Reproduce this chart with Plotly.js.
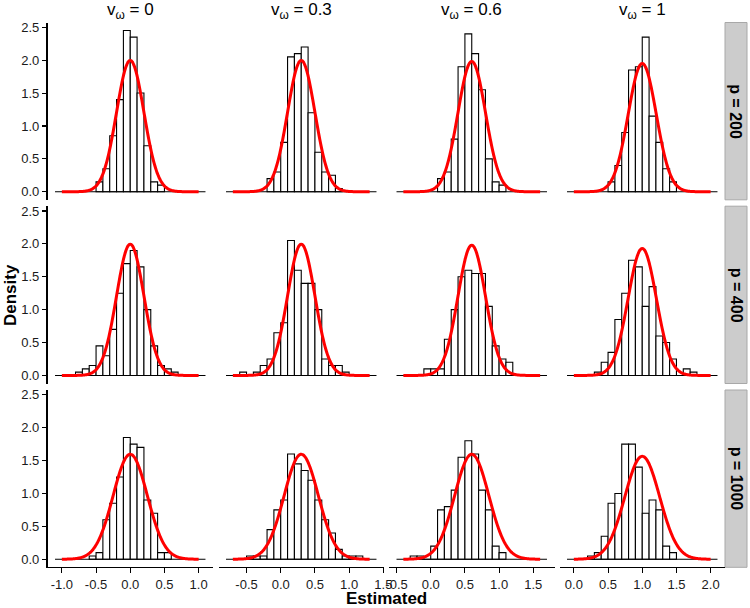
<!DOCTYPE html>
<html>
<head>
<meta charset="utf-8">
<script src="https://cdn.plot.ly/plotly-3.0.1.min.js"></script>
<style>html,body{margin:0;padding:0;background:#fff;}#chart{width:750px;height:608px;}</style>
</head>
<body>
<div id="chart"></div>
<script>
// ---------- data ----------
const vOmega = [0, 0.3, 0.6, 1];
const vLabels = ["0", "0.3", "0.6", "1"];
const pValues = [200, 400, 1000];
const binWidth = 0.1;

// histogram range (zero-height bins drawn as baseline) per column
const histLo = [-1.1, -0.8, -0.5, -0.1];
const histHi = [1.1, 1.4, 1.7, 2.1];

// first bin left edge per panel (rows: p=200, 400, 1000; cols: v = 0, 0.3, 0.6, 1)
const binStart_p200 = [-0.5, -0.2, 0.1, 0.5];
const binStart_p400 = [-0.8, -0.6, -0.1, 0.3];
const binStart_p1000 = [-0.6, -0.5, -0.3, 0.2];

// densities
const dens_p200_v0   = [0.15, 0.35, 0.85, 1.4, 2.45, 2.35, 1.5, 0.7, 0.15, 0.1];
const dens_p200_v03  = [0.2, 0.3, 0.75, 2.05, 2.1, 2.2, 1.2, 0.6, 0.3, 0.25, 0.05];
const dens_p200_v06  = [0.2, 0.3, 0.8, 1.9, 2.4, 2.1, 1.55, 0.5, 0.15, 0.1];
const dens_p200_v1   = [0.15, 0.4, 0.9, 1.85, 1.9, 2.35, 1.15, 0.75, 0.35, 0.15];

const dens_p400_v0   = [0.05, 0.1, 0.15, 0.45, 0.3, 0.7, 1.25, 1.7, 1.9, 1.65, 1.0, 0.45, 0.15, 0.1, 0.05];
const dens_p400_v03  = [0.05, 0, 0.05, 0.15, 0.25, 0.65, 0.8, 2.05, 1.6, 1.4, 1.4, 1.0, 0.25, 0.15, 0.15, 0.05];
const dens_p400_v06  = [0.1, 0.1, 0.1, 0.55, 1.0, 1.5, 1.6, 1.55, 1.55, 1.05, 0.45, 0.25, 0.2];
const dens_p400_v1   = [0.05, 0.2, 0.35, 0.85, 1.25, 1.75, 1.65, 1.05, 1.35, 0.6, 0.5, 0.25, 0, 0.1, 0.05];

const dens_p1000_v0  = [0.05, 0.1, 0.6, 0.85, 1.25, 1.85, 1.75, 1.7, 0.9, 0.7, 0.1, 0.1];
const dens_p1000_v03 = [0.05, 0.05, 0.05, 0.45, 0.75, 0.9, 1.6, 1.45, 1.35, 1.2, 0.9, 0.6, 0.4, 0.15, 0.05, 0.05, 0.05];
const dens_p1000_v06 = [0.05, 0.05, 0, 0.2, 0.75, 0.8, 1.05, 1.55, 1.8, 1.6, 1.05, 0.75, 0.2, 0.1];
const dens_p1000_v1  = [0.05, 0.1, 0.35, 0.85, 1.0, 1.75, 1.75, 1.4, 0.7, 0.9, 0.75, 0.2, 0.1];

// standard deviation of the theoretical normal curve (mean = v), drawn over mean +/- 1
const curveSd_p200  = [0.2, 0.2, 0.2015, 0.2046];
const curveSd_p400  = [0.2, 0.2, 0.2015, 0.2067];
const curveSd_p1000 = [0.25, 0.25, 0.25, 0.255];
const curveHalfSpan = 1;

// tick labels
const xTickVals = [[-1, -0.5, 0, 0.5, 1], [-0.5, 0, 0.5, 1, 1.5], [-0.5, 0, 0.5, 1, 1.5], [0, 0.5, 1, 1.5, 2]];
const xTickText = [["-1.0", "-0.5", "0.0", "0.5", "1.0"], ["-0.5", "0.0", "0.5", "1.0", "1.5"], ["-0.5", "0.0", "0.5", "1.0", "1.5"], ["0.0", "0.5", "1.0", "1.5", "2.0"]];
const yTickVals = [0, 0.5, 1, 1.5, 2, 2.5];
const yTickText = ["0.0", "0.5", "1.0", "1.5", "2.0", "2.5"];

const binStarts = [binStart_p200, binStart_p400, binStart_p1000];
const densities = [
  [dens_p200_v0, dens_p200_v03, dens_p200_v06, dens_p200_v1],
  [dens_p400_v0, dens_p400_v03, dens_p400_v06, dens_p400_v1],
  [dens_p1000_v0, dens_p1000_v03, dens_p1000_v06, dens_p1000_v1]
];
const curveSds = [curveSd_p200, curveSd_p400, curveSd_p1000];

// ---------- layout geometry (pixels) ----------
const W = 750, H = 608;
const colLeft = [47.5, 218.5, 389, 559.5];
const colWidth = 165.5;
const rowTop = [22.5, 206.2, 390];
const rowHeight = 177.3;
const yRange = [-0.1225, 2.5725];
const FONT = '"Liberation Sans", Arial, Helvetica, sans-serif';
const TICKCOL = '#1a1a1a';

const traces = [];
const layout = {
  width: W, height: H,
  margin: {l: 0, r: 0, t: 0, b: 0},
  paper_bgcolor: '#fff', plot_bgcolor: 'rgba(0,0,0,0)',
  showlegend: false,
  barmode: 'overlay',
  font: {family: FONT, color: TICKCOL, size: 13},
  shapes: [], annotations: []
};

for (let r = 0; r < 3; r++) {
  for (let c = 0; c < 4; c++) {
    const k = r * 4 + c + 1;
    const xa = 'x' + k, ya = 'y' + k;
    const xd = [colLeft[c] / W, (colLeft[c] + colWidth) / W];
    const yd = [1 - (rowTop[r] + rowHeight) / H, 1 - rowTop[r] / H];
    const pad = 0.05 * (histHi[c] - histLo[c]);
    const bottom = (r === 2), left = (c === 0);
    layout['xaxis' + k] = {
      domain: xd, anchor: ya, range: [histLo[c] - pad, histHi[c] + pad],
      showgrid: false, zeroline: false, fixedrange: true,
      showline: bottom, linecolor: '#000', linewidth: 1.1,
      ticks: bottom ? 'outside' : '', ticklen: 4.5, tickwidth: 1.1, tickcolor: '#000',
      tickvals: xTickVals[c], ticktext: xTickText[c], showticklabels: bottom,
      tickfont: {family: FONT, size: 13, color: TICKCOL}
    };
    layout['yaxis' + k] = {
      domain: yd, anchor: xa, range: yRange,
      showgrid: false, zeroline: false, fixedrange: true,
      showline: left, linecolor: '#000', linewidth: 1.1,
      ticks: left ? 'outside' : '', ticklen: 4.5, tickwidth: 1.1, tickcolor: '#000',
      tickvals: yTickVals, ticktext: yTickText, showticklabels: left,
      tickfont: {family: FONT, size: 13, color: TICKCOL}
    };

    // baseline (zero-height bins)
    traces.push({type: 'scatter', mode: 'lines', x: [histLo[c], histHi[c]], y: [0, 0],
      xaxis: xa, yaxis: ya, line: {color: '#000', width: 1.1}, hoverinfo: 'skip'});

    // histogram bars
    const d = densities[r][c];
    const xs = d.map((_, i) => binStarts[r][c] + (i + 0.5) * binWidth);
    traces.push({type: 'bar', x: xs, y: d, width: binWidth, xaxis: xa, yaxis: ya,
      marker: {color: '#ffffff', line: {color: '#000', width: 1.1}}, hoverinfo: 'skip'});

    // theoretical normal density
    const mu = vOmega[c], sd = curveSds[r][c];
    const cx = [], cy = [];
    const n = 200;
    for (let i = 0; i <= n; i++) {
      const x = mu - curveHalfSpan + 2 * curveHalfSpan * i / n;
      cx.push(x);
      cy.push(Math.exp(-0.5 * Math.pow((x - mu) / sd, 2)) / (sd * Math.sqrt(2 * Math.PI)));
    }
    traces.push({type: 'scatter', mode: 'lines', x: cx, y: cy, xaxis: xa, yaxis: ya,
      line: {color: '#ff0000', width: 3, shape: 'spline'}, hoverinfo: 'skip'});
  }
}

// column titles
for (let c = 0; c < 4; c++) {
  layout.annotations.push({
    xref: 'paper', yref: 'paper', x: (colLeft[c] + colWidth / 2) / W, y: 1 - 11 / H,
    xanchor: 'center', yanchor: 'middle', showarrow: false,
    text: 'v<sub>ω</sub> = ' + vLabels[c],
    font: {family: FONT, size: 17, color: '#000'}
  });
}
// row strips
const stripL = 725, stripW = 22;
for (let r = 0; r < 3; r++) {
  layout.shapes.push({type: 'rect', xref: 'paper', yref: 'paper', layer: 'below',
    x0: stripL / W, x1: (stripL + stripW) / W,
    y0: 1 - (rowTop[r] + rowHeight) / H, y1: 1 - rowTop[r] / H,
    fillcolor: '#cccccc', line: {color: '#a8a8a8', width: 1}});
  layout.annotations.push({
    xref: 'paper', yref: 'paper', x: (stripL + stripW / 2) / W, y: 1 - (rowTop[r] + rowHeight / 2) / H,
    xanchor: 'center', yanchor: 'middle', showarrow: false, textangle: 90,
    text: '<b>p = ' + pValues[r] + '</b>',
    font: {family: FONT, size: 16, color: '#000'}
  });
}
// axis titles
layout.annotations.push({xref: 'paper', yref: 'paper', x: 10 / W, y: 1 - 295 / H,
  xanchor: 'center', yanchor: 'middle', showarrow: false, textangle: -90,
  text: '<b>Density</b>', font: {family: FONT, size: 17, color: '#000'}});
layout.annotations.push({xref: 'paper', yref: 'paper', x: 386 / W, y: 1 - 598 / H,
  xanchor: 'center', yanchor: 'middle', showarrow: false,
  text: '<b>Estimated</b>', font: {family: FONT, size: 17, color: '#000'}});

Plotly.newPlot('chart', traces, layout, {staticPlot: true, displayModeBar: false});
</script>
</body>
</html>
